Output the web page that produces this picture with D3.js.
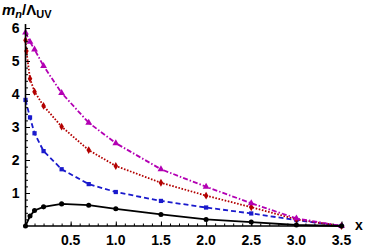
<!DOCTYPE html>
<html>
<head>
<meta charset="utf-8">
<script src="https://cdn.jsdelivr.net/npm/d3@7"></script>
<style>
  body { margin: 0; background: #fff; }
  svg { display: block; }
  text { font-family: "Liberation Sans", Arial, sans-serif; font-weight: bold; fill: #000; }
</style>
</head>
<body>
<div id="chart"></div>
<script>
// data
var xs = [0, 0.05, 0.1, 0.2, 0.4, 0.7, 1.0, 1.5, 2.0, 2.5, 3.0, 3.5]
var xsRed = [0, 0.01, 0.05, 0.1, 0.2, 0.4, 0.7, 1.0, 1.5, 2.0, 2.5, 3.0, 3.5]
var blackVals = [0.0, 0.3, 0.47, 0.58, 0.67, 0.63, 0.52, 0.35, 0.2, 0.12, 0.03, 0]
var blueVals = [3.82, 3.29, 2.81, 2.27, 1.72, 1.27, 1.03, 0.76, 0.56, 0.38, 0.18, 0]
var redVals = [5.63, 5.3, 4.46, 4.07, 3.64, 3.01, 2.3, 1.82, 1.31, 0.92, 0.57, 0.2, 0]
var magentaVals = [5.86, 5.58, 5.35, 4.85, 4.03, 3.13, 2.51, 1.72, 1.19, 0.69, 0.23, 0]
var xTicks = [0.5, 1.0, 1.5, 2.0, 2.5, 3.0, 3.5]
var yTicks = [1, 2, 3, 4, 5, 6]

var w = 365, h = 249
var x0 = 25.5, y0 = 226

var x = d3.scaleLinear().domain([0, 3.5]).range([x0, x0 + 3.5 * 90.3])
var y = d3.scaleLinear().domain([0, 6]).range([y0, y0 - 6 * 33])

var svg = d3.select("#chart").append("svg")
    .attr("width", w)
    .attr("height", h)

var series = [
  { xv: xs, yv: blueVals, color: "#1a1acc", dash: "5,3", sym: d3.symbolSquare, size: 18 },
  { xv: xsRed, yv: redVals, color: "#b30000", dash: "1.6,1.6", sym: d3.symbolDiamond, size: 18 },
  { xv: xs, yv: magentaVals, color: "#b300b3", dash: "5,2,1.5,2", sym: d3.symbolTriangle, size: 20 },
  { xv: xs, yv: blackVals, color: "#000", dash: null, sym: d3.symbolCircle, size: 20 }
]

var line = d3.line()
    .x(function (d) { return x(d[0]) })
    .y(function (d) { return y(d[1]) })

series.forEach(function (s) {
  var pts = s.xv.map(function (v, i) { return [v, s.yv[i]] })
  svg.append("path")
      .attr("d", line(pts))
      .attr("fill", "none")
      .attr("stroke", s.color)
      .attr("stroke-width", 1.8)
      .attr("stroke-dasharray", s.dash)
  svg.selectAll(null).data(pts).enter()
      .append("path")
      .attr("d", d3.symbol().type(s.sym).size(s.size))
      .attr("transform", function (d) { return "translate(" + x(d[0]) + "," + y(d[1]) + ")" })
      .attr("fill", s.color)
})

// axes: ticks inward
var xAxis = svg.append("g").attr("transform", "translate(0," + y0 + ")")
xAxis.call(d3.axisTop(x).tickValues(d3.range(0.1, 3.55, 0.1)).tickSize(2.5).tickFormat(""))
xAxis.append("g").call(d3.axisTop(x).tickValues(xTicks).tickSize(4.5).tickFormat(""))
xAxis.selectAll(".domain").remove()
xAxis.selectAll("line").attr("stroke", "#000").attr("stroke-width", 1)
xAxis.append("line").attr("x1", x0).attr("x2", x(3.53)).attr("stroke", "#000").attr("stroke-width", 1.6)
xAxis.selectAll("text.lbl").data(xTicks).enter()
    .append("text").attr("class", "lbl")
    .attr("x", function (d) { return x(d) })
    .attr("y", 19)
    .attr("text-anchor", "middle")
    .attr("font-size", 14)
    .attr("fill", "#000")
    .text(function (d) { return d.toFixed(1) })

var yAxis = svg.append("g").attr("transform", "translate(" + x0 + ",0)")
yAxis.call(d3.axisRight(y).tickValues(d3.range(0.2, 6.1, 0.2)).tickSize(2.5).tickFormat(""))
yAxis.append("g").call(d3.axisRight(y).tickValues(yTicks).tickSize(4.5).tickFormat(""))
yAxis.selectAll(".domain").remove()
yAxis.selectAll("line").attr("stroke", "#000").attr("stroke-width", 1)
yAxis.append("line").attr("y1", y0).attr("y2", y(6.12)).attr("stroke", "#000").attr("stroke-width", 1.6)
yAxis.selectAll("text.lbl").data(yTicks).enter()
    .append("text").attr("class", "lbl")
    .attr("x", -6)
    .attr("y", function (d) { return y(d) + 5 })
    .attr("text-anchor", "end")
    .attr("font-size", 14)
    .attr("fill", "#000")
    .text(function (d) { return d })

// axis titles
var t = svg.append("text").attr("x", 2).attr("y", 15).attr("font-size", 15)
t.append("tspan").attr("font-style", "italic").text("m")
t.append("tspan").attr("font-style", "italic").attr("font-size", 11).attr("dy", 3).text("n")
t.append("tspan").attr("dy", -3).text("/Λ")
t.append("tspan").attr("font-size", 11).attr("dy", 3).text("UV")

svg.append("text").attr("x", 355).attr("y", 230).attr("font-size", 14).text("x")
</script>
</body>
</html>
